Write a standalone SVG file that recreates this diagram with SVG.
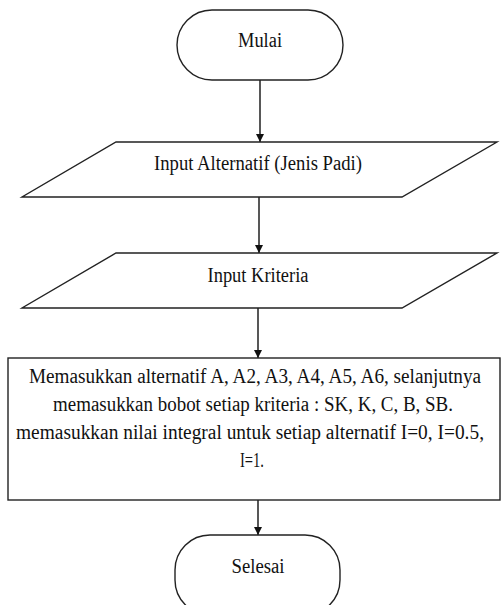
<svg xmlns="http://www.w3.org/2000/svg" width="503" height="605" viewBox="0 0 503 605">
<style>
.shape{fill:#fff;stroke:#222;stroke-width:1.4}
.t{font-family:"Liberation Serif","Times New Roman","DejaVu Serif",serif;font-size:20px;fill:#111;text-anchor:middle}
.c{stroke:#111;stroke-width:1.4;fill:none;marker-end:url(#ah)}
</style>
<defs>
<marker id="ah" viewBox="0 0 10 10" refX="10" refY="5" markerWidth="8" markerHeight="10" markerUnits="userSpaceOnUse" orient="auto">
<path d="M0,0 L10,5 L0,10 Z" fill="#111"/>
</marker>
</defs>
<rect width="503" height="605" fill="#fff"/>
<g id="connectors">
<line class="c" x1="260" y1="80" x2="260" y2="142"/>
<line class="c" x1="259" y1="197" x2="259" y2="253"/>
<line class="c" x1="258" y1="308" x2="258" y2="358"/>
<line class="c" x1="258" y1="500" x2="258" y2="535"/>
</g>
<g id="mulai">
<rect class="shape" x="177" y="10" width="166" height="70" rx="35" ry="35"/>
<text class="t" x="260" y="47" textLength="44" lengthAdjust="spacingAndGlyphs">Mulai</text>
</g>
<g id="input-alternatif">
<polygon class="shape" points="116,142 497,142 402,197 22,197"/>
<text class="t" x="258" y="170" textLength="208" lengthAdjust="spacingAndGlyphs">Input Alternatif (Jenis Padi)</text>
</g>
<g id="input-kriteria">
<polygon class="shape" points="116,253 497,253 402,308 22,308"/>
<text class="t" x="258" y="282" textLength="101" lengthAdjust="spacingAndGlyphs">Input Kriteria</text>
</g>
<g id="proses">
<rect class="shape" x="8" y="358" width="492" height="142"/>
<text class="t" x="255" y="383" textLength="452" lengthAdjust="spacingAndGlyphs">Memasukkan alternatif A, A2, A3, A4, A5, A6, selanjutnya</text>
<text class="t" x="253" y="411" textLength="400" lengthAdjust="spacingAndGlyphs">memasukkan bobot setiap kriteria : SK, K, C, B, SB.</text>
<text class="t" x="250" y="439" textLength="468" lengthAdjust="spacingAndGlyphs">memasukkan nilai integral untuk setiap alternatif I=0, I=0.5,</text>
<text class="t" x="252" y="467" textLength="24" lengthAdjust="spacingAndGlyphs">I=1.</text>
</g>
<g id="selesai">
<rect class="shape" x="175" y="535" width="165" height="80" rx="35" ry="35"/>
<text class="t" x="258" y="573" textLength="53" lengthAdjust="spacingAndGlyphs">Selesai</text>
</g>
</svg>
